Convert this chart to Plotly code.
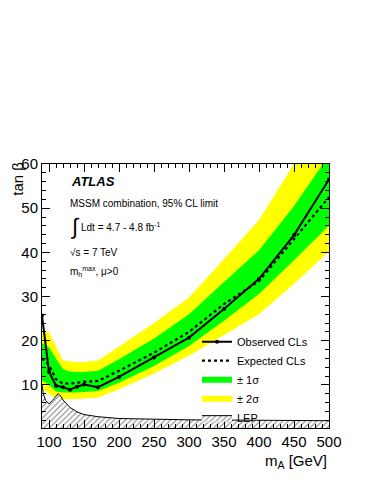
import plotly.graph_objects as go

# m_A grid (GeV) and tan(beta) limits
m_a = [90, 100, 110, 120, 130, 140, 150, 170, 200, 250, 300, 350, 400, 450, 500]
observed = [25.7, 13.0, 9.8, 9.5, 8.9, 9.6, 10.1, 9.5, 11.8, 16.2, 20.7, 27.2, 34.0, 43.9, 56.5]
expected = [16.0, 14.5, 11.3, 10.3, 10.3, 10.5, 10.7, 10.9, 13.2, 17.3, 22.0, 28.3, 33.5, 43.0, 52.5]
sig2_up = [22.3, 22.0, 18.7, 15.5, 15.3, 15.2, 15.2, 15.5, 18.7, 24.0, 29.8, 38.5, 47.3, 60.0, 72.0]
sig1_up = [19.5, 18.5, 16.0, 13.6, 13.0, 12.9, 12.9, 13.2, 15.8, 20.5, 26.0, 33.3, 40.5, 50.5, 62.0]
sig1_lo = [11.0, 10.0, 8.5, 8.3, 8.3, 8.3, 8.4, 8.6, 10.5, 14.3, 18.8, 24.5, 30.6, 38.2, 46.1]
sig2_lo = [9.0, 8.0, 6.9, 6.8, 6.8, 6.8, 6.9, 7.1, 9.0, 12.6, 16.6, 21.3, 26.0, 32.9, 40.2]

# LEP excluded region
m_a_lep = [90, 92, 95, 100, 105, 110, 113, 117, 120, 130, 140, 150, 170, 200, 250, 300, 400, 500]
lep = [10.0, 8.0, 6.5, 5.7, 6.5, 7.6, 8.0, 7.4, 6.6, 4.9, 3.9, 3.3, 2.8, 2.4, 2.2, 2.1, 2.0, 1.9]

FONT = "Liberation Sans, Arial, sans-serif"


def band(lo, hi):
    return m_a + m_a[::-1], hi + lo[::-1]


fig = go.Figure()

bx, by = band(sig2_lo, sig2_up)
fig.add_trace(go.Scatter(x=bx, y=by, fill="toself", fillcolor="#ffff00", mode="none",
                         name="± 2σ", legendrank=4))
bx, by = band(sig1_lo, sig1_up)
fig.add_trace(go.Scatter(x=bx, y=by, fill="toself", fillcolor="#00ff00", mode="none",
                         name="± 1σ", legendrank=3))
fig.add_trace(go.Scatter(x=m_a_lep, y=lep, fill="tozeroy", mode="lines",
                         line=dict(color="black", width=1),
                         fillpattern=dict(shape="/", fgcolor="black", bgcolor="white",
                                          size=4, solidity=0.25),
                         name="LEP", legendrank=5))
fig.add_trace(go.Scatter(x=m_a, y=expected, mode="lines",
                         line=dict(color="black", width=2.2, dash="3px,3px"),
                         name="Expected CLs", legendrank=2))
fig.add_trace(go.Scatter(x=m_a, y=observed, mode="lines+markers",
                         line=dict(color="black", width=2),
                         marker=dict(color="black", size=4),
                         name="Observed CLs", legendrank=1))

axis_common = dict(showline=True, linecolor="black", linewidth=1, mirror="allticks",
                   ticks="inside", ticklen=8, tickcolor="black", showgrid=False,
                   zeroline=False, tickfont=dict(family=FONT, size=15, color="black"))

fig.update_xaxes(range=[90, 500], tick0=100, dtick=50,
                 minor=dict(ticks="inside", ticklen=4, dtick=10, tick0=90, tickcolor="black"),
                 **axis_common)
fig.update_yaxes(range=[0.25, 60], tick0=0, dtick=10,
                 minor=dict(ticks="inside", ticklen=4, dtick=2, tick0=0, tickcolor="black"),
                 **axis_common)

annotations = [
    dict(text="<b><i>ATLAS</i></b>", x=0.095, y=0.932, size=13),
    dict(text="MSSM combination, 95% CL limit", x=0.092, y=0.852, size=10),
    dict(text="∫", x=0.09, y=0.765, size=22),
    dict(text="Ldt = 4.7 - 4.8 fb<sup>-1</sup>", x=0.128, y=0.762, size=10),
    dict(text="√s = 7 TeV", x=0.092, y=0.666, size=10),
    dict(text="m<sub>h</sub><sup>max</sup>, μ>0", x=0.092, y=0.594, size=10),
]
for a in annotations:
    fig.add_annotation(text=a["text"], x=a["x"], y=a["y"], xref="paper", yref="paper",
                       xanchor="left", yanchor="middle", showarrow=False,
                       font=dict(family=FONT, size=a["size"], color="black"))

fig.add_annotation(text="tan β", x=-0.088, y=1.015, xref="paper", yref="paper",
                   xanchor="center", yanchor="top", textangle=-90, showarrow=False,
                   font=dict(family=FONT, size=15, color="black"))
fig.add_annotation(text="m<sub>A</sub> [GeV]", x=1.0, y=-0.085, xref="paper", yref="paper",
                   xanchor="right", yanchor="top", showarrow=False,
                   font=dict(family=FONT, size=15, color="black"))

# page body adds an 8px offset, so margins are shifted by 8px
fig.update_layout(
    width=374, height=484,
    margin=dict(l=34, r=53, t=156, b=64),
    plot_bgcolor="white", paper_bgcolor="white",
    legend=dict(x=0.54, y=0.382, xanchor="left", yanchor="top", bgcolor="rgba(0,0,0,0)",
                font=dict(family=FONT, size=11, color="black"), itemwidth=30,
                tracegroupgap=0),
)

fig.write_html("out.html")
